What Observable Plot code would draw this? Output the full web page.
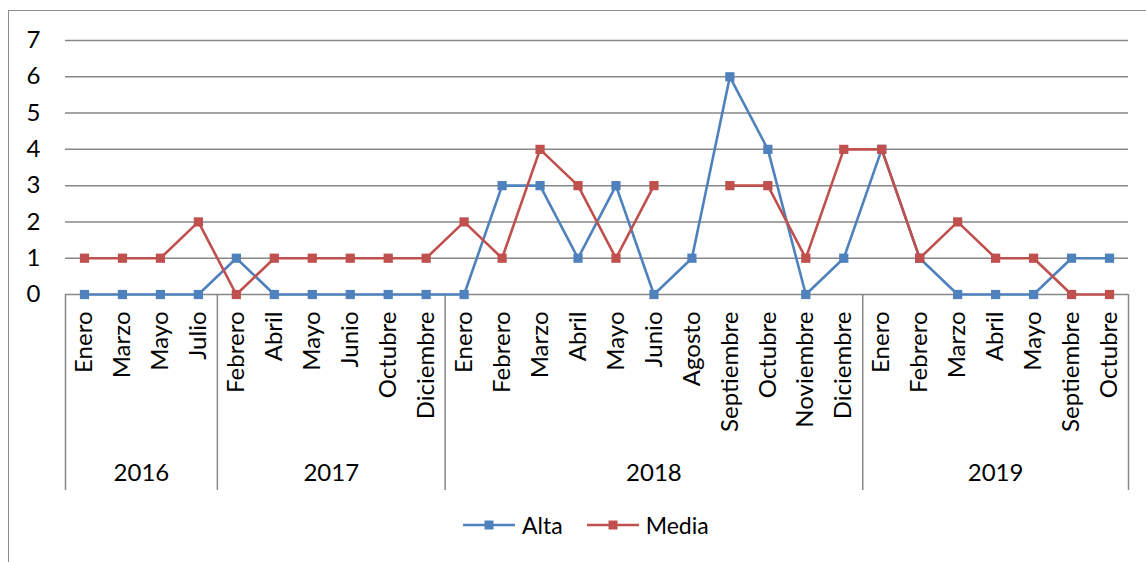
<!DOCTYPE html>
<html>
<head>
<meta charset="utf-8">
<script src="https://cdn.jsdelivr.net/npm/d3@7"></script>
<script src="https://cdn.jsdelivr.net/npm/@observablehq/plot@0.6"></script>
<style>
  html, body { margin: 0; padding: 0; background: #fff; }
  body { width: 1146px; height: 562px; position: relative; overflow: hidden; font-family: Lato, "Open Sans", sans-serif; }
  #frame { position: absolute; left: 8px; top: 10px; width: 1200px; height: 600px;
           border-left: 1.5px solid #8c8c8c; border-top: 1.5px solid #8c8c8c; }
  #chart { position: absolute; left: 0; top: 0; }
  #legend { position: absolute; left: 463px; top: 511px; display: flex; align-items: center; font-size: 23px; color: #000; }
  #legend .item { display: flex; align-items: center; margin-right: 24px; }
  #legend svg { margin-right: 7px; }
</style>
</head>
<body>
<div id="frame"></div>
<div id="chart"></div>
<div id="legend"></div>
<script>
// ---- Data ----
const years = ["2016", "2017", "2018", "2019"];
const months2016 = ["Enero", "Marzo", "Mayo", "Julio"];
const months2017 = ["Febrero", "Abril", "Mayo", "Junio", "Octubre", "Diciembre"];
const months2018 = ["Enero", "Febrero", "Marzo", "Abril", "Mayo", "Junio", "Agosto", "Septiembre", "Octubre", "Noviembre", "Diciembre"];
const months2019 = ["Enero", "Febrero", "Marzo", "Abril", "Mayo", "Septiembre", "Octubre"];
const alta  = [0, 0, 0, 0,   1, 0, 0, 0, 0, 0,   0, 3, 3, 1, 3, 0, 1, 6, 4, 0, 1,   4, 1, 0, 0, 0, 1, 1];
const media = [1, 1, 1, 2,   0, 1, 1, 1, 1, 1,   2, 1, 4, 3, 1, 3, null, 3, 3, 1, 4,   4, 1, 2, 1, 1, 0, 0];
const yTicks = [0, 1, 2, 3, 4, 5, 6, 7];
const seriesNames = ["Alta", "Media"];
const seriesColors = ["#4F81BD", "#C0504D"];

// ---- Build tables ----
const monthGroups = [months2016, months2017, months2018, months2019];
const cats = [];
const groupInfo = [];
monthGroups.forEach((ms, g) => {
  const start = cats.length;
  ms.forEach(m => cats.push({i: cats.length, month: m, year: years[g]}));
  groupInfo.push({year: years[g], start, end: cats.length - 1, center: (start + cats.length - 1) / 2});
});
const boundaries = [-0.5, ...groupInfo.map(g => g.end + 0.5)];
const altaData = cats.map((c, k) => ({i: c.i, v: alta[k]}));
const mediaData = cats.map((c, k) => ({i: c.i, v: media[k]}));

const FONT = 24;
const grid = "#878787";

const chart = Plot.plot({
  width: 1146,
  height: 500,
  marginLeft: 65,
  marginRight: 18,
  marginTop: 40,
  marginBottom: 206,
  style: {fontFamily: "Lato, 'Open Sans', sans-serif", color: "#000", background: "transparent"},
  x: {type: "linear", domain: [-0.5, cats.length - 0.5], axis: null},
  y: {domain: [0, 7], axis: null},
  marks: [
    Plot.ruleY(yTicks, {stroke: grid, strokeWidth: 1.5}),
    // group dividers of the two-level category axis
    Plot.ruleX(boundaries, {y1: 0, y2: -5.4, stroke: grid, strokeWidth: 1.5}),
    Plot.axisY(yTicks, {tickSize: 0, tickPadding: 25, fontSize: FONT, fill: "#000", label: null}),
    Plot.text(cats, {x: "i", y: 0, text: "month", rotate: -90, textAnchor: "end", dy: 17, fontSize: FONT, fill: "#000"}),
    Plot.text(groupInfo, {x: "center", y: 0, text: "year", dy: 179, fontSize: FONT, fill: "#000"}),
    Plot.line(altaData, {x: "i", y: "v", stroke: seriesColors[0], strokeWidth: 2.6}),
    Plot.dot(altaData, {x: "i", y: "v", symbol: "square", r: 5.2, fill: seriesColors[0], stroke: "none"}),
    Plot.line(mediaData, {x: "i", y: "v", stroke: seriesColors[1], strokeWidth: 2.6}),
    Plot.dot(mediaData, {x: "i", y: "v", symbol: "square", r: 5.2, fill: seriesColors[1], stroke: "none"})
  ]
});
document.getElementById("chart").appendChild(chart);

// ---- Legend ----
const legend = document.getElementById("legend");
seriesNames.forEach((name, k) => {
  const item = document.createElement("div");
  item.className = "item";
  item.innerHTML = `<svg width="52" height="14"><line x1="0" y1="7" x2="52" y2="7" stroke="${seriesColors[k]}" stroke-width="2.6"/><rect x="21.5" y="2.5" width="9" height="9" fill="${seriesColors[k]}"/></svg><span>${name}</span>`;
  legend.appendChild(item);
});
</script>
</body>
</html>
